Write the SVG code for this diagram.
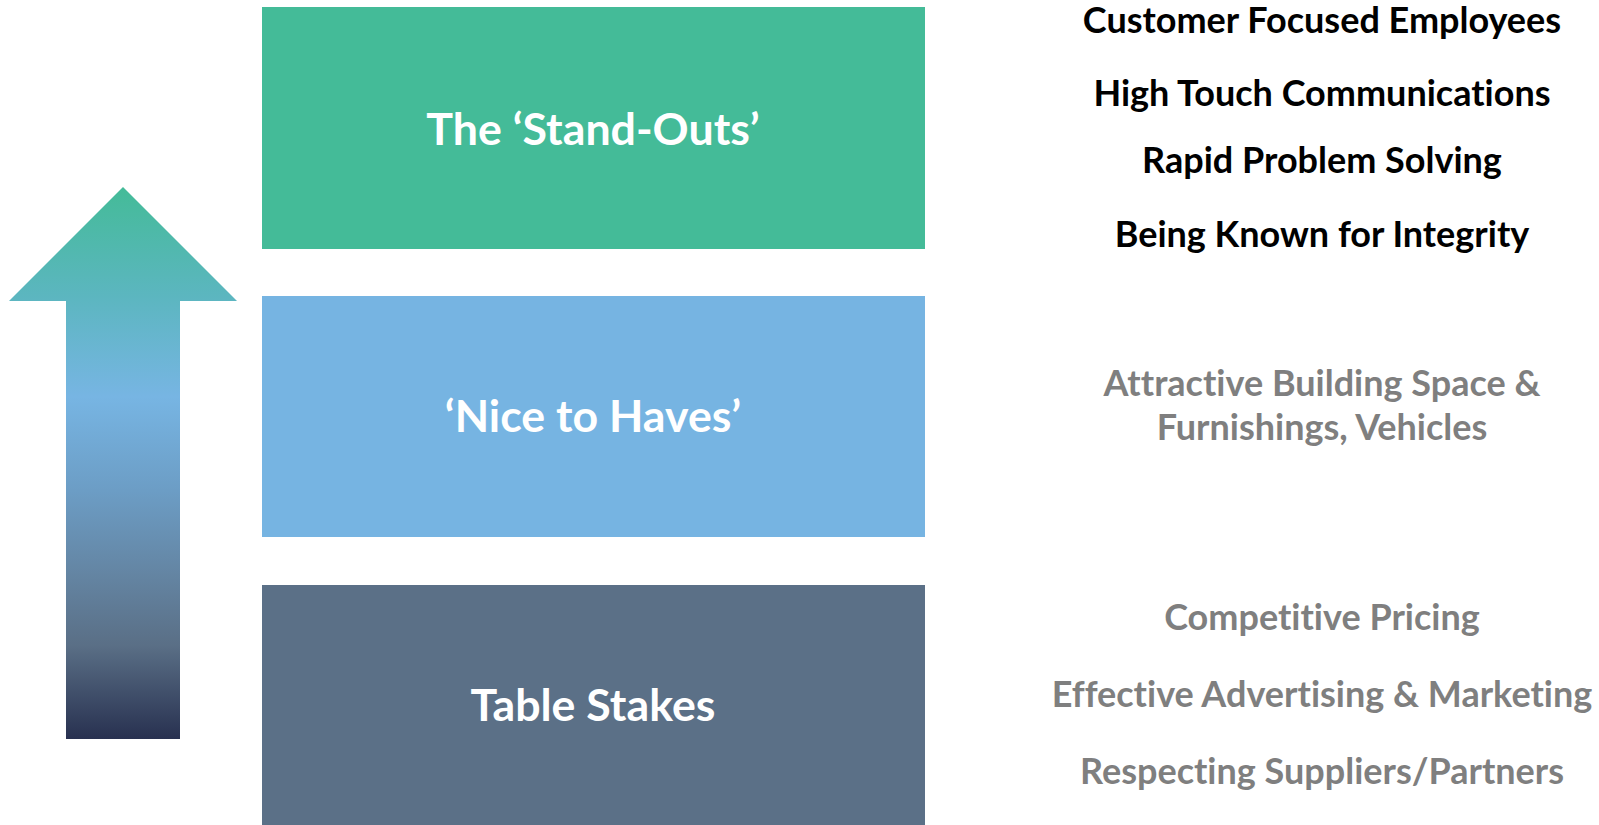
<svg xmlns="http://www.w3.org/2000/svg" width="1599" height="825" viewBox="0 0 1599 825">
<defs>
<linearGradient id="arrowGrad" x1="0" y1="0" x2="0" y2="1">
<stop offset="0" stop-color="#44BB98"/>
<stop offset="0.2" stop-color="#5CB6C0"/>
<stop offset="0.38" stop-color="#77B5E3"/>
<stop offset="0.55" stop-color="#6C9DC5"/>
<stop offset="0.7" stop-color="#6485A3"/>
<stop offset="0.83" stop-color="#5A6F86"/>
<stop offset="1" stop-color="#283150"/>
</linearGradient>
<style>
text{font-variant-ligatures:none}
.box-label{font-family:Lato,"Liberation Sans",sans-serif;font-weight:700;font-size:44.7px;fill:#FFFFFF;text-anchor:middle}
.item{font-family:Lato,"Liberation Sans",sans-serif;font-weight:700;font-size:36px;text-anchor:middle}
.dark{fill:#000000}
.grey{fill:#7F7F7F}
</style>
</defs>
<rect width="1599" height="825" fill="#FFFFFF"/>
<g id="arrow">
<path d="M123,187 L237,301 L180,301 L180,739 L66,739 L66,301 L9,301 Z" fill="url(#arrowGrad)"/>
</g>
<g id="standouts">
<rect x="262" y="7" width="663" height="242" fill="#44BB98"/>
<text class="box-label" x="593" y="145">The ‘Stand-Outs’</text>
</g>
<g id="nice-to-haves">
<rect x="262" y="296" width="663" height="241" fill="#76B4E2"/>
<text class="box-label" x="593" y="432">‘Nice to Haves’</text>
</g>
<g id="table-stakes">
<rect x="262" y="585" width="663" height="240" fill="#5B7087"/>
<text class="box-label" x="593" y="721">Table Stakes</text>
</g>
<g id="standouts-items">
<text class="item dark" x="1322" y="33">Customer Focused Employees</text>
<text class="item dark" x="1322" y="106">High Touch Communications</text>
<text class="item dark" x="1322" y="173">Rapid Problem Solving</text>
<text class="item dark" x="1322" y="247">Being Known for Integrity</text>
</g>
<g id="nice-items">
<text class="item grey" x="1322" y="396">Attractive Building Space &amp;</text>
<text class="item grey" x="1322" y="440">Furnishings, Vehicles</text>
</g>
<g id="stakes-items">
<text class="item grey" x="1322" y="630">Competitive Pricing</text>
<text class="item grey" x="1322" y="707">Effective Advertising &amp; Marketing</text>
<text class="item grey" x="1322" y="784">Respecting Suppliers/Partners</text>
</g>
<g id="connectors"/>
</svg>
